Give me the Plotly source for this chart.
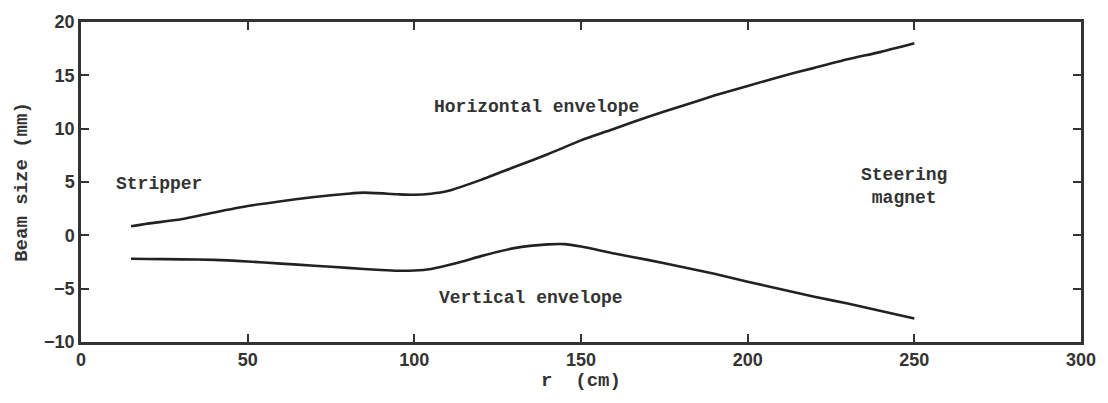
import plotly.graph_objects as go

r_h = [15, 20, 30, 40, 50, 60, 70, 80, 85, 95, 100, 105, 110, 120, 130, 140, 150, 160, 170, 180, 190, 200, 210, 220, 230, 240, 250]
horizontal = [0.85, 1.1, 1.5, 2.15, 2.75, 3.2, 3.6, 3.9, 4.0, 3.85, 3.8, 3.9, 4.15, 5.2, 6.4, 7.6, 8.9, 10.0, 11.1, 12.1, 13.1, 14.0, 14.9, 15.7, 16.5, 17.2, 18.0]

r_v = [15, 20, 30, 40, 50, 60, 70, 80, 90, 95, 100, 105, 110, 115, 120, 130, 140, 145, 150, 160, 170, 180, 190, 200, 210, 220, 230, 240, 250]
vertical = [-2.2, -2.22, -2.25, -2.3, -2.45, -2.65, -2.85, -3.05, -3.25, -3.32, -3.3, -3.15, -2.8, -2.4, -1.95, -1.2, -0.85, -0.82, -1.05, -1.7, -2.3, -2.95, -3.6, -4.35, -5.05, -5.75, -6.4, -7.1, -7.8]

x_ticks = [0, 50, 100, 150, 200, 250, 300]
y_ticks = [-10, -5, 0, 5, 10, 15, 20]
y_tick_labels = ["\u221210", "\u22125", "0", "5", "10", "15", "20"]

labels = [
    ("Stripper", 23.5, 4.8),
    ("Horizontal envelope", 136.5, 12.0),
    ("Vertical envelope", 135, -5.9),
    ("Steering<br>magnet", 247, 4.6),
]

mono = "Liberation Mono"
sans = "Liberation Sans"

fig = go.Figure()
fig.add_trace(go.Scatter(x=r_h, y=horizontal, mode="lines", line=dict(color="#222", width=2.6, shape="spline", smoothing=0.6), showlegend=False))
fig.add_trace(go.Scatter(x=r_v, y=vertical, mode="lines", line=dict(color="#222", width=2.6, shape="spline", smoothing=0.6), showlegend=False))

for text, x, y in labels:
    fig.add_annotation(x=x, y=y, text="<b>" + text + "</b>", showarrow=False,
                       font=dict(family=mono, size=18, color="#333"), xanchor="center", yanchor="middle")

axis_common = dict(showline=True, linecolor="#333", linewidth=2.5, mirror="ticks", ticks="inside",
                   ticklen=8, tickwidth=2, tickcolor="#333", showgrid=False, zeroline=False,
                   tickfont=dict(family=sans, size=18, color="#333"))

fig.update_xaxes(range=[0, 300], tickvals=x_ticks, ticktext=["<b>%d</b>" % v for v in x_ticks],
                 title=dict(text="<b>r  (cm)</b>", font=dict(family=mono, size=19, color="#333"), standoff=4),
                 **axis_common)
fig.update_yaxes(range=[-10, 20], tickvals=y_ticks, ticktext=["<b>%s</b>" % t for t in y_tick_labels],
                 title=dict(text="<b>Beam size (mm)</b>", font=dict(family=mono, size=19, color="#333"), standoff=12),
                 **axis_common)

fig.update_layout(width=1108, height=403, margin=dict(l=81, r=23, t=17, b=61),
                  plot_bgcolor="white", paper_bgcolor="white")

fig.write_html("out.html")
